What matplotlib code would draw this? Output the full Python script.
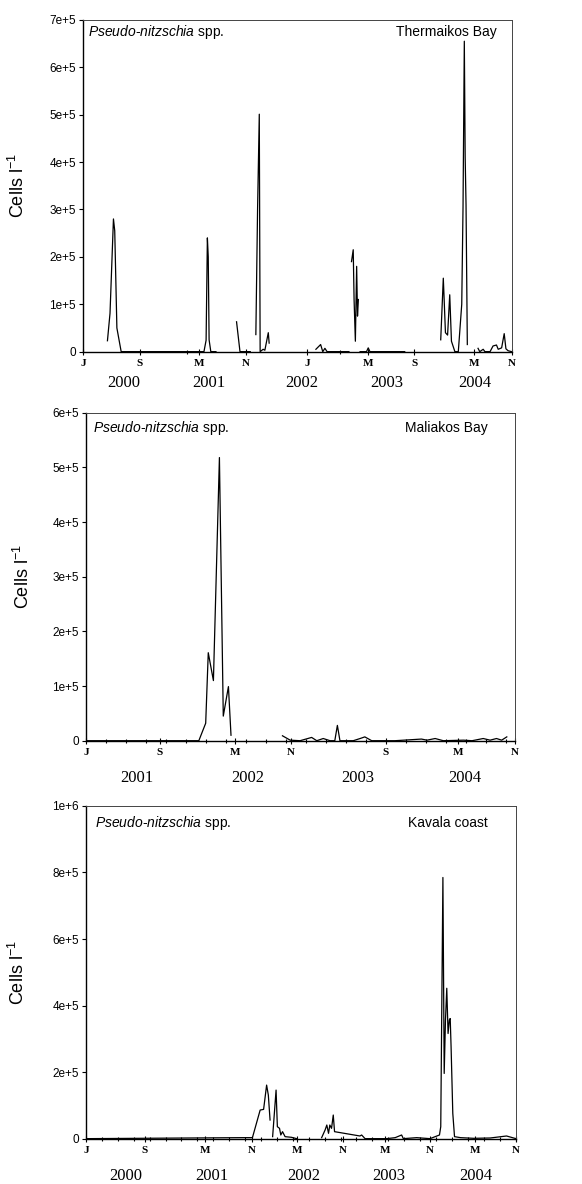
import numpy as np
import matplotlib
matplotlib.use("Agg")
import matplotlib.pyplot as plt
from matplotlib.ticker import FixedLocator

plt.rcParams["mathtext.fontset"] = "custom"
plt.rcParams["mathtext.rm"] = "Liberation Sans"
plt.rcParams["mathtext.it"] = "Liberation Sans:italic"
plt.rcParams["axes.unicode_minus"] = False

nan = np.nan

# x is the position along the axis (0-100)
# Thermaikos Bay
therm_x = [0, 5.7, 6.3, 7.1, 7.4, 7.9, 8.9, 20, 28.2, 28.7, 29.0, 29.2, 29.4, 29.8, 31,
           nan, 35.8, 36.6, 39,
           nan, 40.3, 40.7, 41.1, 41.3, 42.0, 42.4, 43.2, 43.4,
           nan, 54.3, 55.4, 55.9, 56.4, 56.9, 62,
           nan, 62.6, 63.0, 63.2, 63.5, 63.8, 64.0, 64.2,
           nan, 64.6, 66.1, 66.5, 66.9, 75,
           nan, 83.4, 84.0, 84.2, 84.5, 85.0, 85.5, 85.9, 86.7, 87.5, 88.3, 88.6, 88.9, 89.1, 89.3, 89.6,
           nan, 92.1, 92.5, 93.3, 93.7, 94.9, 95.6, 96.4, 96.8, 97.6, 98.2, 98.6, 99.1, 99.9]
therm_y = [nan, 23e3, 81e3, 280e3, 255e3, 50e3, 0, 0, 0, 24e3, 240e3, 200e3, 25e3, 0, 0,
           nan, 63e3, 0, 0,
           nan, 36e3, 300e3, 501e3, 0, 5e3, 3e3, 40e3, 18e3,
           nan, 5e3, 15e3, 0, 7e3, 0, 0,
           nan, 190e3, 215e3, 110e3, 22e3, 180e3, 75e3, 110e3,
           nan, 0, 0, 8e3, 0, 0,
           nan, 25e3, 155e3, 110e3, 40e3, 35e3, 120e3, 22e3, 0, 0, 100e3, 305e3, 655e3, 410e3, 310e3, 15e3,
           nan, 7e3, 0, 5e3, 0, 0, 12e3, 14e3, 5e3, 8e3, 38e3, 6e3, 2e3, 0]

# Maliakos Bay
mal_x = [0, 26.3, 27.9, 28.5, 29.7, 31.1, 32.0, 33.2, 33.8,
         nan, 45.8, 47.6, 49.9, 52.6, 53.8, 55.3, 56.9, 58.0, 58.6, 59.2, 62.3, 63.9, 65.0,
         66.6, 72, 78.2, 79.5, 81.4, 83.3, 88.0, 90, 92.6, 94.2, 95.7, 96.9, 98.1]
mal_y = [0, 0, 32e3, 161e3, 110e3, 518e3, 45e3, 99e3, 10e3,
         nan, 9e3, 1e3, 0, 6e3, 0, 4e3, 0, 0, 28e3, 0, 0, 4e3, 7e3,
         0, 0, 3e3, 1e3, 4e3, 0, 1e3, 0, 4e3, 1e3, 4e3, 1e3, 7e3]

# Kavala coast
kav_x = [0, 36.2, 38.7, 40.5, 41.3, 42.0, 42.4, 42.8,
         nan, 43.4, 44.2, 44.5, 45.0, 45.3, 45.7, 46.3, 47.8, 49.0,
         nan, 54.8, 55.6, 56.0, 56.4, 56.7, 57.1, 57.5, 57.8, 63.7, 64.1, 64.9,
         69.9, 71.9, 73.4, 73.8, 76.9, 80.0, 82.2, 82.5, 83.0, 83.3, 83.6, 83.9,
         84.2, 84.5, 84.7, 84.9, 85.3, 85.7, 87.1, 90.2, 94.0, 97.8, 100]
kav_y = [0, 3e3, 3e3, 86e3, 88e3, 161e3, 131e3, 56e3,
         nan, 6e3, 146e3, 36e3, 31e3, 11e3, 21e3, 6e3, 4e3, 0,
         nan, 3e3, 26e3, 41e3, 16e3, 41e3, 31e3, 71e3, 21e3, 8e3, 11e3, 0,
         0, 3e3, 11e3, 0, 3e3, 0, 11e3, 36e3, 785e3, 196e3, 357e3, 452e3,
         316e3, 357e3, 361e3, 277e3, 76e3, 6e3, 3e3, 1e3, 2e3, 8e3, 0]

therm_months = ["J", "S", "M", "N", "J", "M", "S", "M", "N"]
therm_month_pos = [0, 13.3, 27.0, 38.0, 52.2, 66.4, 77.2, 91.1, 100]
therm_years = ["2000", "2001", "2002", "2003", "2004"]
therm_year_pos = [9.4, 29.4, 51.0, 70.8, 91.3]

mal_months = ["J", "S", "M", "N", "S", "M", "N"]
mal_month_pos = [0, 17.2, 34.7, 47.8, 69.9, 86.7, 100]
mal_years = ["2001", "2002", "2003", "2004"]
mal_year_pos = [11.9, 37.8, 63.3, 88.3]

kav_months = ["J", "S", "M", "N", "M", "N", "M", "N", "M", "N"]
kav_month_pos = [0, 13.7, 27.7, 38.6, 49.1, 59.8, 69.5, 80.0, 90.5, 100]
kav_years = ["2000", "2001", "2002", "2003", "2004"]
kav_year_pos = [9.2, 29.3, 50.7, 70.3, 90.7]

therm_yticks = [0, 1e5, 2e5, 3e5, 4e5, 5e5, 6e5, 7e5]
therm_ylabels = ["0", "1e+5", "2e+5", "3e+5", "4e+5", "5e+5", "6e+5", "7e+5"]
mal_yticks = [0, 1e5, 2e5, 3e5, 4e5, 5e5, 6e5]
mal_ylabels = ["0", "1e+5", "2e+5", "3e+5", "4e+5", "5e+5", "6e+5"]
kav_yticks = [0, 2e5, 4e5, 6e5, 8e5, 1e6]
kav_ylabels = ["0", "2e+5", "4e+5", "6e+5", "8e+5", "1e+6"]

therm_minor = [24.2, 59.9]
mal_minor = list(np.arange(0, 100, 4.66))
kav_minor = list(np.arange(0, 100, 3.7))

panels = [
    dict(rect=[0.1426, 0.703, 0.737, 0.2802], x=therm_x, y=therm_y, site="Thermaikos Bay",
         months=therm_months, mpos=therm_month_pos, years=therm_years, ypos=therm_year_pos,
         yt=therm_yticks, yl=therm_ylabels, ymax=7e5, minor=therm_minor,
         yearoff=-0.095, labx=-0.128, sx=0.012, sy=0.964, rx=0.965, ry=0.964),
    dict(rect=[0.1478, 0.3744, 0.737, 0.277], x=mal_x, y=mal_y, site="Maliakos Bay",
         months=mal_months, mpos=mal_month_pos, years=mal_years, ypos=mal_year_pos,
         yt=mal_yticks, yl=mal_ylabels, ymax=6e5, minor=mal_minor,
         yearoff=-0.113, labx=-0.124, sx=0.016, sy=0.953, rx=0.937, ry=0.953),
    dict(rect=[0.1478, 0.0383, 0.7388, 0.281], x=kav_x, y=kav_y, site="Kavala coast",
         months=kav_months, mpos=kav_month_pos, years=kav_years, ypos=kav_year_pos,
         yt=kav_yticks, yl=kav_ylabels, ymax=1e6, minor=kav_minor,
         yearoff=-0.113, labx=-0.135, sx=0.021, sy=0.949, rx=0.935, ry=0.949),
]

fig = plt.figure(figsize=(5.82, 11.84), dpi=100)

for p in panels:
    ax = fig.add_axes(p["rect"])
    ax.plot(p["x"], p["y"], color="black", lw=0.9)
    ax.set_xlim(0, 100)
    ax.set_ylim(0, p["ymax"])

    ax.set_xticks(p["mpos"])
    ax.set_xticklabels(p["months"], family="Liberation Serif", fontweight="bold", fontsize=8)
    ax.xaxis.set_minor_locator(FixedLocator(p["minor"]))
    ax.tick_params(axis="x", which="major", direction="inout", length=5, width=0.8, pad=3)
    ax.tick_params(axis="x", which="minor", direction="inout", length=3, width=0.8)

    ax.set_yticks(p["yt"])
    ax.set_yticklabels(p["yl"], family="Liberation Sans", fontsize=8.5)
    ax.tick_params(axis="y", direction="out", length=3, width=0.8, pad=2)

    for yr, xp in zip(p["years"], p["ypos"]):
        ax.text(xp, p["yearoff"], yr, transform=ax.get_xaxis_transform(),
                ha="center", va="center", family="Liberation Serif", fontsize=12)

    ax.set_ylabel("Cells l$^{-1}$", family="Liberation Sans", fontsize=13)
    ax.yaxis.set_label_coords(p["labx"], 0.5)

    ax.text(p["sx"], p["sy"], "$\\it{Pseudo}$-$\\it{nitzschia}$ spp.", transform=ax.transAxes,
            ha="left", va="center", family="Liberation Sans", fontsize=10)
    ax.text(p["rx"], p["ry"], p["site"], transform=ax.transAxes,
            ha="right", va="center", family="Liberation Sans", fontsize=10)

    for s in ["left", "bottom"]:
        ax.spines[s].set_linewidth(1.0)
    for s in ["top", "right"]:
        ax.spines[s].set_linewidth(0.7)
        ax.spines[s].set_color("#444444")

fig.savefig("out.png", dpi=100)
